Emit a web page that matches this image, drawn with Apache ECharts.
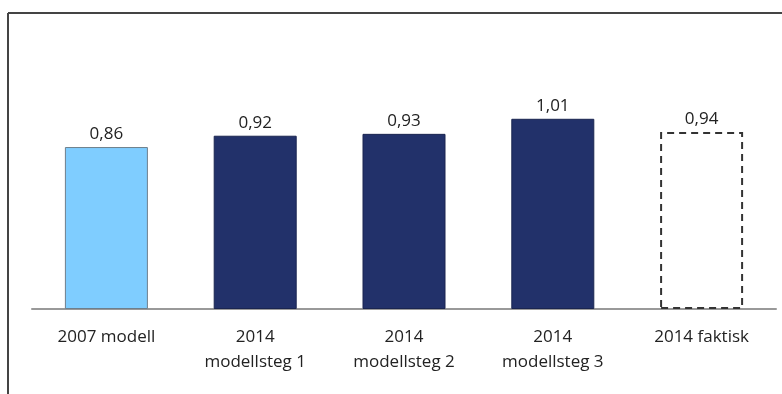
<!DOCTYPE html>
<html>
<head>
<meta charset="utf-8">
<script src="https://cdn.jsdelivr.net/npm/echarts@6/dist/echarts.min.js"></script>
<style>
html,body{margin:0;padding:0;background:#fff;}
#chart{width:782px;height:394px;}
</style>
</head>
<body>
<div id="chart"></div>
<script>
const categories = ['2007 modell', '2014\nmodellsteg 1', '2014\nmodellsteg 2', '2014\nmodellsteg 3', '2014 faktisk'];
const values = [0.86, 0.92, 0.93, 1.01, 0.94];

const fills = ['#7FCDFF', '#22316A', '#22316A', '#22316A', '#FFFFFF'];
const borders = ['#6E7F8C', '#1A2550', '#1A2550', '#1A2550', '#333333'];

const chart = echarts.init(document.getElementById('chart'), null, {renderer: 'canvas'});
const fmt = v => v.toFixed(2).replace('.', ',');
const data = values.map((v, i) => ({
  value: v,
  itemStyle: {
    color: fills[i],
    borderColor: borders[i],
    borderWidth: i === 4 ? 2 : 1,
    borderType: i === 4 ? [7, 5] : 'solid'
  }
}));

chart.setOption({
  animation: false,
  backgroundColor: '#fff',
  textStyle: {fontFamily: 'Open Sans'},
  grid: {left: 32, right: 6, top: 83, bottom: 85, containLabel: false},
  xAxis: {
    type: 'category',
    data: categories,
    axisLine: {show: true, lineStyle: {color: '#999', width: 2}},
    axisTick: {show: false},
    axisLabel: {
      color: '#222', fontSize: 17, fontFamily: 'Open Sans',
      lineHeight: 25, margin: 16, interval: 0
    }
  },
  yAxis: {
    type: 'value', min: 0, max: 1.2, show: false,
    splitLine: {show: false}
  },
  graphic: [
    {type: 'line', shape: {x1: 8, y1: 13, x2: 8, y2: 394}, style: {stroke: '#444', lineWidth: 2}, silent: true},
    {type: 'line', shape: {x1: 8, y1: 13, x2: 782, y2: 13}, style: {stroke: '#444', lineWidth: 2}, silent: true}
  ],
  series: [{
    type: 'bar',
    data: data,
    barWidth: 83,
    label: {
      show: true, position: 'top', distance: 4,
      color: '#222', fontSize: 17, fontFamily: 'Open Sans',
      formatter: p => fmt(p.value)
    }
  }]
});
</script>
</body>
</html>
